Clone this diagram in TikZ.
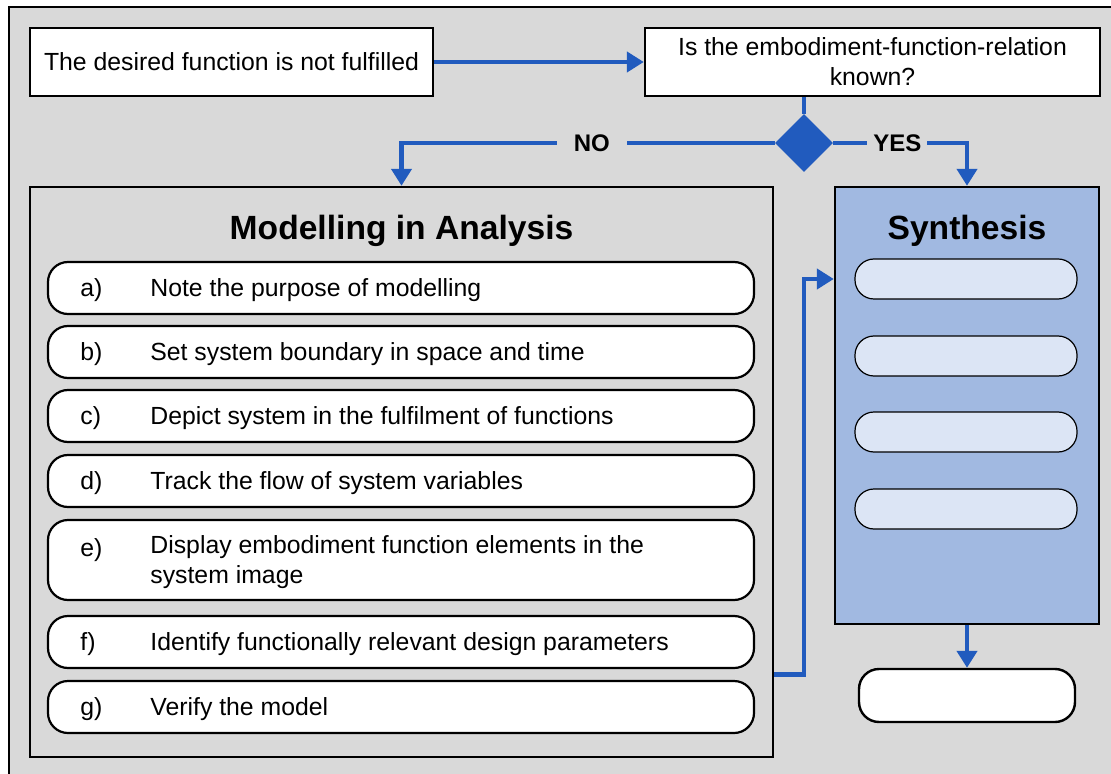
\documentclass[tikz,border=0pt]{standalone}
\usepackage{fontspec}
\setmainfont{Liberation Sans}
\usetikzlibrary{shapes.geometric,arrows.meta,calc}

\definecolor{flowblue}{HTML}{215BBE}
\definecolor{bggray}{HTML}{D9D9D9}
\definecolor{synblue}{HTML}{A1B9E1}
\definecolor{synlight}{HTML}{DCE5F5}

\begin{document}
\begin{tikzpicture}[x=0.5pt,y=-0.5pt,
    every node/.style={font=\fontsize{12.4}{15}\selectfont},
    frame/.style={draw,line width=1.2pt,inner sep=0pt},
    stepbox/.style={draw,line width=1.1pt,fill=white,rounded corners=10pt,
      minimum width=353pt,inner sep=0pt},
    slot/.style={draw,line width=0.6pt,fill=synlight,rounded corners=9.5pt,
      minimum width=111pt,minimum height=20pt,inner sep=0pt},
    flow/.style={draw=flowblue,line width=2.2pt,
      -{Triangle[length=8.5pt,width=10pt]}},
    answer/.style={font=\fontsize{12}{14}\selectfont\bfseries,fill=bggray,
      inner ysep=1pt},
    heading/.style={font=\fontsize{16.8}{20}\selectfont\bfseries}]
        \useasboundingbox (0,0) rectangle (1111,774);
        \clip (0,0) rectangle (1111,774);
        % outer frame
        \draw[line width=1.2pt,fill=bggray] (9,7) rectangle (1140,800);
        % top row
        \node[frame,fill=white,minimum width=201.5pt,minimum height=34pt]
          (start) at (231.5,62) {The desired function is not fulfilled};
        \node[frame,fill=white,minimum width=227.5pt,minimum height=34pt,
          align=center] (question) at (872.5,62)
          {Is the embodiment-function-relation\\known?};
        \node[diamond,fill=flowblue,minimum width=29pt,minimum height=29pt,
          inner sep=0pt] (decide) at (804,143) {};
        % the two blocks
        \node[frame,minimum width=371.5pt,minimum height=285pt]
          (analysis) at (401.5,472) {};
        \node[heading] (anatitle) at (401.5,231) {Modelling in Analysis};
        \node[frame,fill=synblue,minimum width=132pt,minimum height=218.5pt]
          (synth) at (967,405.5) {};
        \node[heading] (syntitle) at (967,231) {Synthesis};
        % steps of the analysis
        \foreach \n/\yc/\h/\ly/\lab/\txt in {
            a/288/52/290/a)/{Note the purpose of modelling},
            b/352/52/354/b)/{Set system boundary in space and time},
            c/416/52/418/c)/{Depict system in the fulfilment of functions},
            d/481/52/483/d)/{Track the flow of system variables},
            e/560/80/550/e)/{Display embodiment function elements in the\\system image},
            f/642/52/644/f)/{Identify functionally relevant design parameters},
            g/707/52/709/g)/{Verify the model}} {
          \node[stepbox,minimum height=\h*0.5pt] (row\n) at (401,\yc) {};
          \node[anchor=west,inner sep=0pt] (lab\n) at (80,\ly) {\lab};
          \node[anchor=west,inner sep=0pt,align=left] (txt\n)
            at (150,\yc+2) {\txt};
        }
        % empty slots of the synthesis
        \foreach \n/\yc in {1/279,2/356,3/432,4/509}
          \node[slot] (slot\n) at (966,\yc) {};
        \node[frame,fill=white,rounded corners=10pt,minimum width=108pt,
          minimum height=26.5pt] (result) at (967,695.5) {};
        % connectors
        \coordinate (handover) at ($(rowf.south)!0.5!(rowg.north)$);
        \draw[flow] (start.east) -- (question.west);
        \draw[draw=flowblue,line width=2.2pt] (question.south -| decide) -- (decide.north);
        \draw[flow] (decide.west) -| (analysis.north)
          node[answer,inner xsep=8.5pt,pos=0.245] (no) {NO};
        \draw[flow] (decide.east) -| (synth.north)
          node[answer,inner xsep=3pt,pos=0.239] (yes) {YES};
        \draw[flow] (analysis.east |- handover)
          -- ++(30,0) |- (synth.west |- slot1);
        \draw[flow] (synth.south) -- (result.north);
\end{tikzpicture}
\end{document}
